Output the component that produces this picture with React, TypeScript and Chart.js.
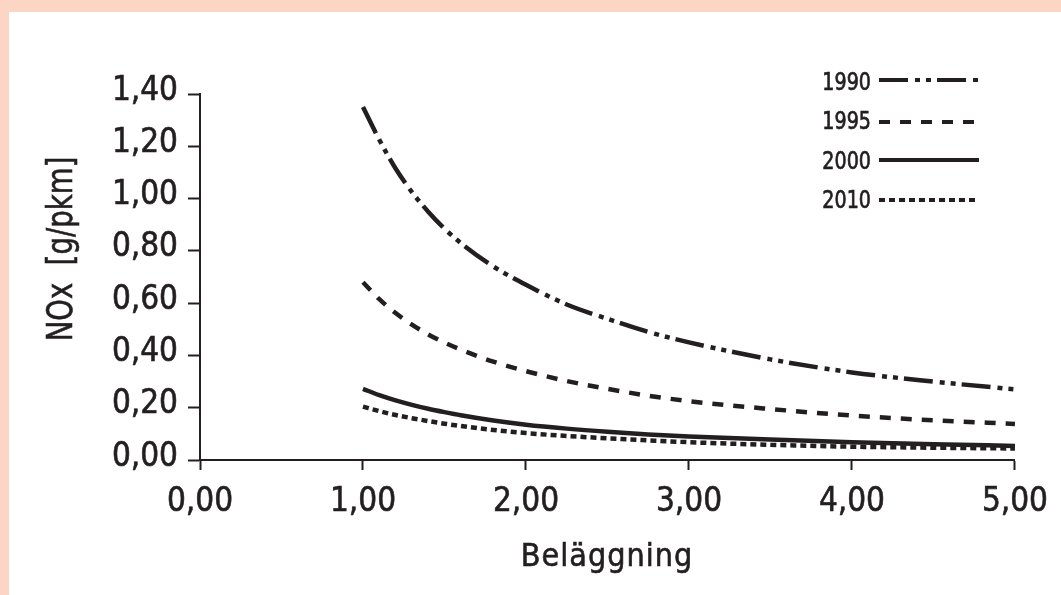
import React, { useEffect, useRef } from 'react';
import { Chart, registerables } from 'chart.js';

Chart.register(...registerables);

// Data
const xValues = [1, 1.1, 1.2, 1.3, 1.4, 1.5, 1.6, 1.8, 2, 2.25, 2.5, 2.75, 3, 3.5, 4, 4.5, 5];
const nox1990 = [1.35, 1.225, 1.115, 1.025, 0.95, 0.885, 0.83, 0.74, 0.67, 0.595, 0.54, 0.49, 0.45, 0.385, 0.335, 0.3, 0.27];
const nox1995 = [0.68, 0.615, 0.562, 0.518, 0.48, 0.449, 0.422, 0.376, 0.34, 0.302, 0.272, 0.246, 0.225, 0.195, 0.17, 0.152, 0.138];
const nox2000 = [0.272, 0.248, 0.228, 0.211, 0.196, 0.183, 0.171, 0.151, 0.135, 0.12, 0.108, 0.098, 0.09, 0.078, 0.068, 0.06, 0.054];
const nox2010 = [0.204, 0.187, 0.172, 0.16, 0.149, 0.139, 0.13, 0.115, 0.103, 0.092, 0.083, 0.075, 0.068, 0.058, 0.051, 0.047, 0.044];
const seriesLabels = ['1990', '1995', '2000', '2010'];
const xTitle = 'Beläggning';
const yTitle = 'NOx  [g/pkm]';

const INK = '#231f20';
const FONT = '"DejaVu Sans Condensed", "Liberation Sans Narrow", sans-serif';

const fmt = (v: number) => Number(v).toFixed(2).replace('.', ',');

const overlayPlugin = {
  id: 'overlay',
  afterDraw(chart: any) {
    const ctx = chart.ctx as CanvasRenderingContext2D;
    // Legend (text left of line sample)
    const textY = [83, 122, 162, 201];
    const lineY = [80, 122, 160, 200];
    chart.data.datasets.forEach((ds: any, i: number) => {
      ctx.save();
      ctx.translate(871, textY[i]);
      ctx.scale(0.85, 1);
      ctx.font = `25px ${FONT}`;
      ctx.fillStyle = INK;
      ctx.strokeStyle = INK;
      ctx.lineWidth = 0.7;
      ctx.textAlign = 'right';
      ctx.textBaseline = 'middle';
      ctx.fillText(ds.label, 0, 0);
      ctx.strokeText(ds.label, 0, 0);
      ctx.restore();
      ctx.save();
      ctx.strokeStyle = INK;
      ctx.lineWidth = 4;
      ctx.lineCap = 'butt';
      ctx.setLineDash(ds.borderDash || []);
      ctx.beginPath();
      ctx.moveTo(879, lineY[i]);
      ctx.lineTo(979, lineY[i]);
      ctx.stroke();
      ctx.restore();
    });
    // Y axis title
    ctx.save();
    ctx.translate(63, 249);
    ctx.rotate(-Math.PI / 2);
    ctx.scale(0.85, 1);
    ctx.font = `36px ${FONT}`;
    ctx.fillStyle = INK;
    ctx.strokeStyle = INK;
    ctx.lineWidth = 0.6;
    ctx.textAlign = 'center';
    ctx.textBaseline = 'middle';
    ctx.fillText(yTitle, 0, 0);
    ctx.strokeText(yTitle, 0, 0);
    ctx.restore();
    // X axis title
    ctx.save();
    ctx.font = `32px ${FONT}`;
    (ctx as any).letterSpacing = '1px';
    ctx.fillStyle = INK;
    ctx.strokeStyle = INK;
    ctx.lineWidth = 0.6;
    ctx.textAlign = 'center';
    ctx.textBaseline = 'alphabetic';
    ctx.fillText(xTitle, 607, 566);
    ctx.strokeText(xTitle, 607, 566);
    ctx.restore();
  },
};

export default function App() {
  const ref = useRef<HTMLCanvasElement | null>(null);

  useEffect(() => {
    if (!ref.current) return;
    const series = [nox1990, nox1995, nox2000, nox2010];
    const dashes = [[29, 7, 5, 6, 5, 6], [11, 10], [], [6, 4]];
    const chart = new Chart(ref.current, {
      type: 'line',
      data: {
        datasets: series.map((s, i) => ({
          label: seriesLabels[i],
          data: xValues.map((x, j) => ({ x, y: s[j] })),
          borderColor: INK,
          borderWidth: 4.5,
          borderDash: dashes[i],
          borderCapStyle: 'butt' as const,
          pointRadius: 0,
          fill: false,
          cubicInterpolationMode: 'monotone' as const,
        })),
      },
      options: {
        responsive: false,
        animation: false,
        layout: { padding: { left: 0, top: 94, right: 46, bottom: 0 } },
        plugins: { legend: { display: false }, tooltip: { enabled: false }, title: { display: false } },
        scales: {
          x: {
            type: 'linear',
            min: 0,
            max: 5,
            afterFit: (s: any) => { s.height = 135; },
            ticks: {
              stepSize: 1,
              callback: (v: any) => fmt(v),
              color: INK,
              textStrokeColor: INK,
              textStrokeWidth: 0.6,
              font: { family: FONT, size: 33 },
              padding: 13,
              maxRotation: 0,
            },
            grid: {
              drawOnChartArea: false,
              drawTicks: true,
              tickLength: 10,
              tickWidth: 2,
              tickColor: INK,
            },
            border: { display: true, color: INK, width: 2 },
          },
          y: {
            type: 'linear',
            min: 0,
            max: 1.4,
            afterFit: (s: any) => { s.width = 200; },
            ticks: {
              stepSize: 0.2,
              callback: (v: any) => fmt(v),
              color: INK,
              textStrokeColor: INK,
              textStrokeWidth: 0.6,
              font: { family: FONT, size: 33 },
              padding: 10,
              labelOffset: -3,
            },
            grid: {
              drawOnChartArea: false,
              drawTicks: true,
              tickLength: 12,
              tickWidth: 2,
              tickColor: INK,
            },
            border: { display: true, color: INK, width: 2 },
          },
        },
      },
      plugins: [overlayPlugin],
    } as any);
    return () => chart.destroy();
  }, []);

  return (
    <div style={{ position: 'fixed', left: 0, top: 0, width: 1061, height: 595, background: '#fdd5c4' }}>
      <div style={{ position: 'absolute', left: 9, top: 12, right: 0, bottom: 0, background: '#ffffff' }} />
      <canvas ref={ref} width={1061} height={595} style={{ position: 'absolute', left: 0, top: 0, width: 1061, height: 595 }} />
    </div>
  );
}
